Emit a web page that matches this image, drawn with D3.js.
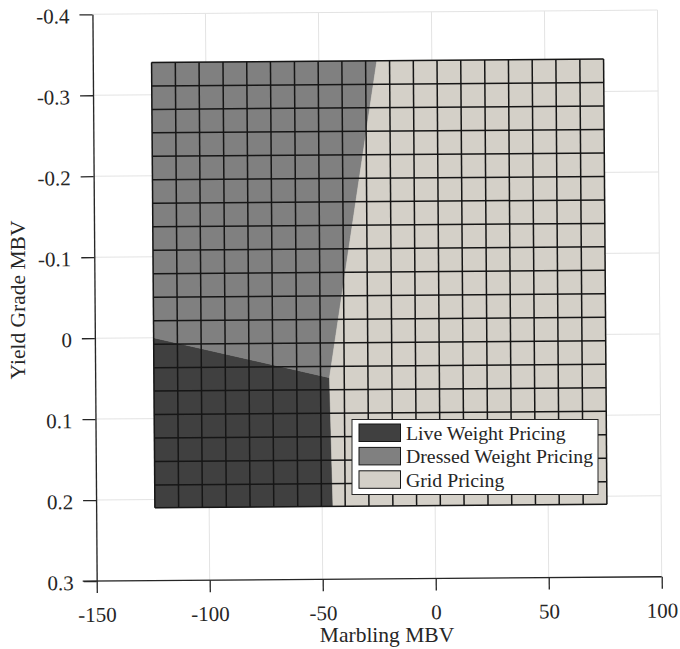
<!DOCTYPE html>
<html>
<head>
<meta charset="utf-8">
<script src="https://cdn.jsdelivr.net/npm/d3@7"></script>
<style>
  html, body { margin: 0; padding: 0; background: #fff; }
  svg { display: block; }
  text { font-family: "Liberation Serif", "Times New Roman", serif; fill: #262626; }
</style>
</head>
<body>
<svg id="chart" width="680" height="649"></svg>
<script>
// ---- data ----
const xTicks = [-150, -100, -50, 0, 50, 100];
const yTicks = [-0.4, -0.3, -0.2, -0.1, 0, 0.1, 0.2, 0.3];
const xTickLabels = ["-150", "-100", "-50", "0", "50", "100"];
const yTickLabels = ["-0.4", "-0.3", "-0.2", "-0.1", "0", "0.1", "0.2", "0.3"];

// surface mesh coordinates (Marbling MBV, Yield Grade MBV)
const meshX = [-124, -113.5, -103, -92.4, -81.9, -71.4, -60.8, -50.3, -39.8, -29.3,
               -18.7, -8.2, 2.3, 12.8, 23.4, 33.9, 44.4, 54.9, 65.5, 76];
const meshY = [-0.34, -0.311, -0.282, -0.253, -0.224, -0.195, -0.166, -0.137, -0.108, -0.079,
               -0.050, -0.021, 0.008, 0.037, 0.066, 0.095, 0.124, 0.153, 0.182, 0.21];

// region boundaries (decision regions)
const liveRegion    = [[-124, 0.0], [-46.3, 0.051], [-45.2, 0.21], [-124, 0.21]];
const dressedRegion = [[-124, -0.34], [-24.3, -0.34], [-46.3, 0.051], [-124, 0.0]];
const gridRegion    = [[-24.3, -0.34], [76, -0.34], [76, 0.21], [-45.2, 0.21], [-46.3, 0.051]];

const regionNames  = ["Live Weight Pricing", "Dressed Weight Pricing", "Grid Pricing"];
const regionColors = ["#404040", "#808080", "#d4d0c8"];

// ---- drawing ----
const svg = d3.select("#chart");
svg.append("rect").attr("width", 680).attr("height", 649).attr("fill", "#fff");

const x = d3.scaleLinear().domain([-150, 100]).range([96.7, 661.7]);
const y = d3.scaleLinear().domain([-0.4, 0.3]).range([14.3, 581]);

// slight oblique view of the 3D axes
const kx = 0.0075, ky = -0.0075;
const ox = x(-150), oy = y(0.3);
const g = svg.append("g")
  .attr("transform", `matrix(1,${ky},${kx},1,${-kx * oy},${-ky * ox})`);

// grid lines
const grid = g.append("g").attr("stroke", "#e3e3e3").attr("stroke-width", 1);
grid.selectAll("line.v").data(xTicks).join("line")
  .attr("x1", d => x(d)).attr("x2", d => x(d))
  .attr("y1", y(-0.4)).attr("y2", y(0.3));
grid.selectAll("line.h").data(yTicks).join("line")
  .attr("x1", x(-150)).attr("x2", x(100))
  .attr("y1", d => y(d)).attr("y2", d => y(d));

// regions
const line = d3.line().x(d => x(d[0])).y(d => y(d[1]));
const regions = [liveRegion, dressedRegion, gridRegion];
g.append("g").selectAll("path").data(regions).join("path")
  .attr("d", d => line(d) + "Z")
  .attr("fill", (d, i) => regionColors[i])
  .attr("stroke", (d, i) => regionColors[i])
  .attr("stroke-width", 0.6);

// mesh
const mesh = g.append("g").attr("stroke", "#161616").attr("stroke-width", 1.5);
mesh.selectAll("line.mx").data(meshX).join("line")
  .attr("x1", d => x(d)).attr("x2", d => x(d))
  .attr("y1", y(meshY[0])).attr("y2", y(meshY[meshY.length - 1]));
mesh.selectAll("line.my").data(meshY).join("line")
  .attr("x1", x(meshX[0])).attr("x2", x(meshX[meshX.length - 1]))
  .attr("y1", d => y(d)).attr("y2", d => y(d));

// axes
const xAxis = d3.axisBottom(x).tickValues(xTicks)
  .tickFormat((d, i) => xTickLabels[i]).tickSize(12).tickPadding(15).tickSizeOuter(0);
const yAxis = d3.axisLeft(y).tickValues(yTicks)
  .tickFormat((d, i) => yTickLabels[i]).tickSize(13).tickPadding(10).tickSizeOuter(0);

const gx = g.append("g").attr("transform", `translate(0,${y(0.3)})`).call(xAxis);
const gy = g.append("g").attr("transform", `translate(${x(-150)},0)`).call(yAxis);
[gx, gy].forEach(a => {
  a.select(".domain").attr("stroke", "#262626").attr("stroke-width", 1.3);
  a.selectAll(".tick line").attr("stroke", "#262626").attr("stroke-width", 1.3);
  a.selectAll(".tick text").attr("font-size", 21)
    .attr("font-family", "Liberation Serif, Times New Roman, serif").attr("fill", "#2b2b2b");
});
gy.selectAll(".tick text").attr("dy", "0.40em");
gx.selectAll(".tick text").attr("dy", "0.66em");
// extend x axis line to the left of the y axis (3D axis look)
gx.select(".domain").attr("d", `M${x(-150) - 14},0H${x(100)}`);

// axis labels
svg.append("text").attr("x", 387).attr("y", 641.5)
  .attr("text-anchor", "middle").attr("font-size", 21.5).attr("fill", "#2b2b2b")
  .text("Marbling MBV");
svg.append("text").attr("transform", "translate(25,300) rotate(-90)")
  .attr("text-anchor", "middle").attr("font-size", 21.5).attr("fill", "#2b2b2b")
  .text("Yield Grade MBV");

// legend
const lg = svg.append("g").attr("transform", "translate(352,419.5)");
lg.append("rect").attr("width", 246).attr("height", 75)
  .attr("fill", "#fff").attr("stroke", "#262626").attr("stroke-width", 1);
const items = lg.selectAll("g.item").data(regionNames).join("g")
  .attr("transform", (d, i) => `translate(7,${4.5 + i * 23.4})`);
items.append("rect").attr("width", 41.5).attr("height", 17.5)
  .attr("fill", (d, i) => regionColors[i]).attr("stroke", "#161616").attr("stroke-width", 1);
items.append("text").attr("x", 47).attr("y", 16)
  .attr("font-size", 19.8).attr("fill", "#1a1a1a").text(d => d);
</script>
</body>
</html>
